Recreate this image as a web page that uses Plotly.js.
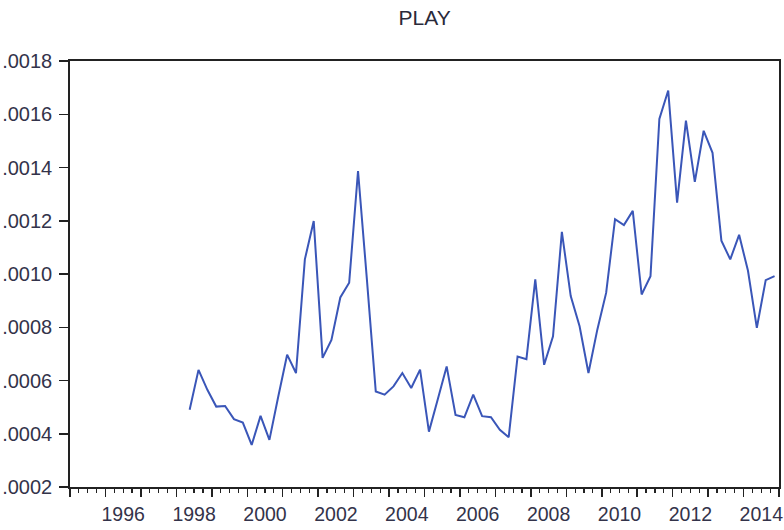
<!DOCTYPE html>
<html>
<head>
<meta charset="utf-8">
<script src="https://cdn.plot.ly/plotly-3.0.1.min.js"></script>
<style>
  html, body { margin: 0; padding: 0; background: #fff; }
  #chart { width: 784px; height: 530px; }
</style>
</head>
<body>
<div id="chart"></div>
<script>
// ---- datos: PLAY, trimestral 1998Q2 - 2014Q4 ----
const startYear = 1998;
const startQuarter = 2;
const playValues = [
  0.00049, 0.00064, 0.000565,
  0.000502, 0.000504, 0.000455, 0.000442,
  0.000358, 0.000467, 0.000377, 0.00054,
  0.000697, 0.000628, 0.001055, 0.001199,
  0.000685, 0.000752, 0.000912, 0.000967,
  0.001387, 0.00098, 0.000559, 0.000547,
  0.000578, 0.000628, 0.000572, 0.000641,
  0.000408, 0.00053, 0.000653, 0.000471,
  0.000462, 0.000547, 0.000466, 0.000462,
  0.000415, 0.000387, 0.00069, 0.00068,
  0.00098, 0.000659, 0.000766, 0.001158,
  0.000917, 0.000804, 0.000628, 0.000791,
  0.00093, 0.001206, 0.001184, 0.001237,
  0.000923, 0.000992, 0.001582, 0.001689,
  0.001268, 0.001576, 0.001346, 0.001538,
  0.001455, 0.001125, 0.001055, 0.001147,
  0.001012, 0.000798, 0.000977, 0.000992
];

const yTickVals = [0.0002, 0.0004, 0.0006, 0.0008, 0.0010, 0.0012, 0.0014, 0.0016, 0.0018];
const yTickText = ['.0002', '.0004', '.0006', '.0008', '.0010', '.0012', '.0014', '.0016', '.0018'];
const yearLabels = ['1996', '1998', '2000', '2002', '2004', '2006', '2008', '2010', '2012', '2014'];

// posición de cada trimestre (centro del periodo, en años)
const xQuarter = playValues.map((v, i) => {
  const q = (startQuarter - 1) + i;
  return startYear + q / 4 + 0.125;
});

const xRange = [1995, 2015];
const yearTicks = [];
for (let y = xRange[0]; y <= xRange[1]; y++) yearTicks.push(y);

const textColor = '#33334a';

const trazas = [{
  x: xQuarter,
  y: playValues,
  type: 'scatter',
  mode: 'lines',
  name: 'PLAY',
  line: { color: '#3a56b8', width: 2 },
  xaxis: 'x',
  yaxis: 'y',
  hoverinfo: 'x+y'
}];

const layout = {
  width: 784,
  height: 530,
  paper_bgcolor: '#ffffff',
  plot_bgcolor: '#ffffff',
  font: { family: '"Liberation Sans", Arial, sans-serif', color: textColor, size: 18 },
  margin: { l: 70, r: 5, t: 61, b: 43 },
  showlegend: false,
  title: {
    text: 'PLAY',
    font: { size: 21, color: '#2a2a3a' },
    x: 0.5416, xanchor: 'center',
    y: 0.966, yanchor: 'middle'
  },
  xaxis: {
    range: xRange,
    tickmode: 'array',
    tickvals: yearTicks,
    showticklabels: false,
    ticks: 'outside',
    ticklen: 8,
    tickwidth: 1.5,
    tickcolor: '#222',
    minor: {
      tickmode: 'linear',
      tick0: 1995,
      dtick: 0.25,
      ticks: 'outside',
      ticklen: 4,
      tickwidth: 1.2,
      tickcolor: '#222'
    },
    showgrid: false,
    zeroline: false,
    showline: true,
    linecolor: '#222',
    linewidth: 1.8,
    mirror: true
  },
  // eje de etiquetas: años centrados en su periodo
  xaxis2: {
    overlaying: 'x',
    anchor: 'y',
    side: 'bottom',
    range: xRange,
    tickmode: 'array',
    tickvals: yearLabels.map(y => Number(y) + 0.5),
    ticktext: yearLabels,
    ticks: '',
    ticklabelstandoff: 13,
    tickfont: { size: 19.5, color: textColor },
    showgrid: false,
    zeroline: false,
    showline: false
  },
  yaxis: {
    range: [0.0002, 0.0018],
    tickmode: 'array',
    tickvals: yTickVals,
    ticktext: yTickText,
    ticks: 'outside',
    ticklen: 9,
    tickwidth: 1.5,
    tickcolor: '#222',
    ticklabelstandoff: 3,
    tickfont: { size: 20, color: textColor },
    showgrid: false,
    zeroline: false,
    showline: true,
    linecolor: '#222',
    linewidth: 1.8,
    mirror: true
  }
};

// traza invisible para activar el eje de etiquetas
trazas.push({
  x: xRange,
  y: [null, null],
  type: 'scatter',
  mode: 'lines',
  xaxis: 'x2',
  yaxis: 'y',
  hoverinfo: 'skip',
  showlegend: false
});

Plotly.newPlot('chart', trazas, layout, { displayModeBar: false, staticPlot: true });
</script>
</body>
</html>
